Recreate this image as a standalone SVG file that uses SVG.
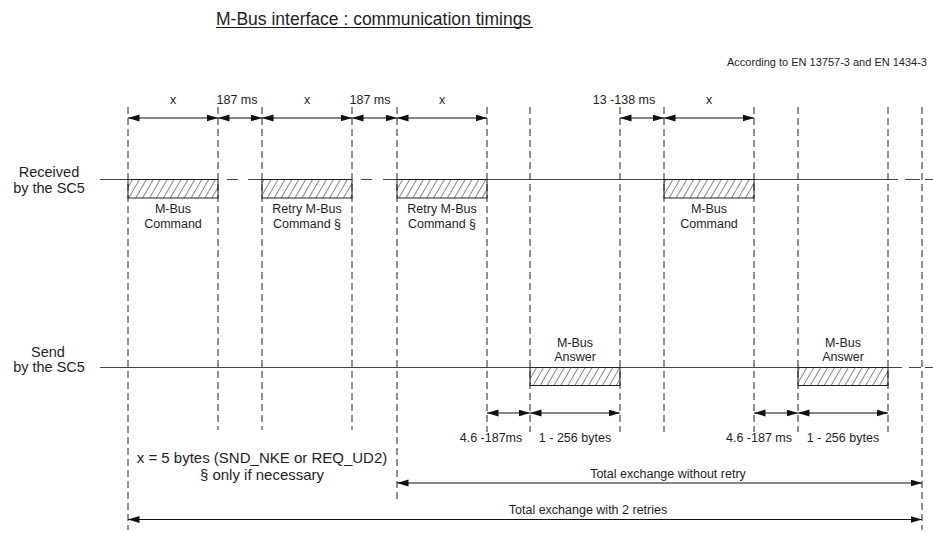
<svg xmlns="http://www.w3.org/2000/svg" width="933" height="533" viewBox="0 0 933 533">
<style>
text{font-family:"Liberation Sans",Arial,sans-serif;fill:#1e1e1e}
.t{font-size:17.5px}
.s{font-size:12.5px;text-anchor:middle}
.m{font-size:14.5px;text-anchor:middle}
.b{font-size:15px;text-anchor:middle}
.vd{stroke:#222;stroke-width:1;stroke-dasharray:7 4;fill:none}
.ax{stroke:#444;stroke-width:1.1;fill:none}
.dim{stroke:#111;stroke-width:1.2;fill:none;marker-start:url(#ah);marker-end:url(#ah)}
.box{fill:url(#hatch);stroke:#222;stroke-width:1}
</style>
<defs>
<marker id="ah" markerUnits="userSpaceOnUse" markerWidth="12" markerHeight="8" refX="11.5" refY="3.5" orient="auto-start-reverse">
<path d="M0,0 L11.5,3.5 L0,7 z" fill="#111"/>
</marker>
<pattern id="hatch" patternUnits="userSpaceOnUse" width="6" height="10" patternTransform="rotate(30)">
<line x1="0" y1="-1" x2="0" y2="11" stroke="#222" stroke-width="1.1"/>
</pattern>
</defs>
<text class="t" x="216" y="25">M-Bus interface : communication timings</text>
<line x1="216" y1="27.5" x2="533" y2="27.5" stroke="#1e1e1e" stroke-width="1"/>
<text x="927" y="66" style="font-size:11px;text-anchor:end">According to EN 13757-3 and EN 1434-3</text>
<g id="axis-received">
<text class="m" x="49" y="177">Received</text>
<text class="m" x="49" y="193">by the SC5</text>
<path class="ax" d="M100,179.5H218 M227,179.5H238 M248,179.5H352 M361,179.5H372 M383,179.5H898 M905,179.5H920 M925,179.5H933"/>
</g>
<g id="axis-send">
<text class="m" x="48" y="357">Send</text>
<text class="m" x="49" y="372">by the SC5</text>
<path class="ax" d="M100,367.5H902 M909,367.5H921 M925,367.5H933"/>
</g>
<g id="guides">
<path class="vd" d="M128,107V530 M218,107V430 M262,107V430 M352,107V430 M397,107V500 M487,107V432 M530,107V432 M620,107V432 M664,107V432 M754,107V432 M798,107V432 M888,107V432 M922,107V530"/>
</g>
<g id="cmd1"><rect class="box" x="128" y="179.5" width="90" height="18.5"/><text class="s" x="173" y="212.5">M-Bus</text><text class="s" x="173" y="227.5">Command</text></g>
<g id="cmd2"><rect class="box" x="262" y="179.5" width="90" height="18.5"/><text class="s" x="307" y="212.5">Retry M-Bus</text><text class="s" x="307" y="227.5">Command §</text></g>
<g id="cmd3"><rect class="box" x="397" y="179.5" width="90" height="18.5"/><text class="s" x="442" y="212.5">Retry M-Bus</text><text class="s" x="442" y="227.5">Command §</text></g>
<g id="cmd4"><rect class="box" x="664" y="179.5" width="90" height="18.5"/><text class="s" x="709" y="212.5">M-Bus</text><text class="s" x="709" y="227.5">Command</text></g>
<g id="ans1"><rect class="box" x="530" y="367.5" width="90" height="18"/><text class="s" x="575" y="347">M-Bus</text><text class="s" x="575" y="360.5">Answer</text></g>
<g id="ans2"><rect class="box" x="798" y="367.5" width="90" height="18"/><text class="s" x="843" y="347">M-Bus</text><text class="s" x="843" y="360.5">Answer</text></g>
<g id="connectors">
<line class="dim" x1="128" y1="118" x2="218" y2="118"/>
<line class="dim" x1="218" y1="118" x2="262" y2="118"/>
<line class="dim" x1="262" y1="118" x2="352" y2="118"/>
<line class="dim" x1="352" y1="118" x2="397" y2="118"/>
<line class="dim" x1="397" y1="118" x2="487" y2="118"/>
<line class="dim" x1="620" y1="118" x2="664" y2="118"/>
<line class="dim" x1="664" y1="118" x2="754" y2="118"/>
<line class="dim" x1="487" y1="413" x2="530" y2="413"/>
<line class="dim" x1="530" y1="413" x2="620" y2="413"/>
<line class="dim" x1="754" y1="413" x2="798" y2="413"/>
<line class="dim" x1="798" y1="413" x2="888" y2="413"/>
<line class="dim" x1="397" y1="483" x2="922" y2="483"/>
<line class="dim" x1="128" y1="519.5" x2="922" y2="519.5"/>
</g>
<g id="labels">
<text class="s" x="173" y="104">x</text>
<text class="s" x="237" y="104">187 ms</text>
<text class="s" x="307" y="104">x</text>
<text class="s" x="370" y="104">187 ms</text>
<text class="s" x="442" y="104">x</text>
<text class="s" x="624" y="104">13 -138 ms</text>
<text class="s" x="709" y="104">x</text>
<text class="s" x="491" y="442">4.6 -187ms</text>
<text class="s" x="575" y="442">1 - 256 bytes</text>
<text class="s" x="759" y="442">4.6 -187 ms</text>
<text class="s" x="843" y="442">1 - 256 bytes</text>
<text class="b" x="262" y="463">x = 5 bytes (SND_NKE or REQ_UD2)</text>
<text class="b" x="262" y="480">§ only if necessary</text>
<text class="s" x="668" y="478">Total exchange without retry</text>
<text class="s" x="588" y="514">Total exchange with 2 retries</text>
</g>
</svg>
